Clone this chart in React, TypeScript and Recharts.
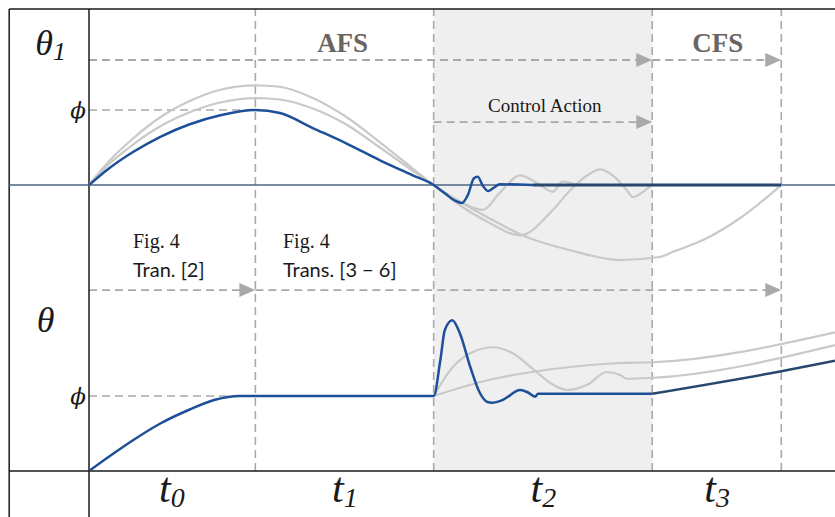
import { ComposedChart, Line, XAxis, YAxis, ReferenceLine, ReferenceArea, ReferenceDot } from "recharts";

// time axis: phase boundaries and where the t_i labels sit
const phaseEdges = [0, 2.23, 4.62, 7.55, 9.28];
const tickCenters = [1.11, 3.43, 6.09, 8.42];
const tickSubs = ["0", "1", "2", "3"];

// upper panel, theta_1 (units of phi)
const theta1Main = [
  [0, 0], [0.28, 0.23], [0.59, 0.44], [0.95, 0.64], [1.35, 0.81], [1.76, 0.93], [2.23, 1.0],
  [2.56, 0.96], [3.0, 0.76], [3.46, 0.55], [3.9, 0.33], [4.34, 0.13], [4.62, 0],
  [4.77, -0.11], [4.91, -0.21], [5.0, -0.24], [5.08, -0.13], [5.16, 0.09], [5.21, 0.11],
  [5.28, -0.01], [5.35, -0.08], [5.42, -0.04], [5.51, 0.01], [5.95, 0],
];
const theta1Settled = [[5.95, 0], [9.28, 0]];
const theta1GrayA = [
  [0, 0], [0.28, 0.33], [0.59, 0.62], [0.95, 0.9], [1.35, 1.12], [1.76, 1.27], [2.23, 1.33],
  [2.56, 1.31], [3.0, 1.16], [3.46, 0.9], [3.9, 0.57], [4.34, 0.22], [4.62, 0],
  [4.97, -0.22], [5.34, -0.43], [5.91, -0.71], [6.45, -0.87], [7.12, -1.0], [7.65, -0.96],
  [7.83, -0.89], [8.28, -0.71], [8.73, -0.44], [9.28, 0],
];
const theta1GrayB = [
  [0, 0], [0.28, 0.29], [0.59, 0.54], [0.95, 0.78], [1.35, 0.97], [1.76, 1.1], [2.23, 1.16],
  [2.56, 1.14], [3.0, 1.02], [3.46, 0.8], [3.9, 0.5], [4.34, 0.19], [4.62, 0],
  [4.97, -0.27], [5.34, -0.49], [5.78, -0.67], [6.22, -0.33], [6.45, -0.07], [6.68, 0.13],
  [6.85, 0.21], [7.02, 0.13], [7.21, -0.07], [7.29, -0.16], [7.43, -0.09], [7.56, 0], [9.28, 0],
];
const theta1GrayC = [
  [4.62, 0], [4.97, -0.22], [5.28, -0.33], [5.51, -0.1], [5.78, 0.13], [6.0, 0.03],
  [6.22, -0.09], [6.35, 0.05], [6.54, 0.01], [6.9, 0],
];

// lower panel, theta (units of phi)
const thetaMain = [
  [0, 0], [0.28, 0.2], [0.59, 0.41], [0.95, 0.63], [1.35, 0.82], [1.69, 0.95], [2.02, 1.0],
  [2.23, 1.0], [4.62, 1.0], [4.71, 1.48], [4.77, 1.88], [4.87, 2.01], [4.97, 1.84],
  [5.11, 1.39], [5.24, 1.04], [5.34, 0.92], [5.4, 0.91], [5.55, 0.95], [5.78, 1.08],
  [5.88, 1.05], [5.98, 0.99], [6.02, 1.03], [6.22, 1.03], [7.55, 1.03],
];
const thetaCfs = [[7.55, 1.03], [9.28, 1.33], [10, 1.47]];
const thetaGrayE = [
  [4.62, 1.0], [4.88, 1.39], [5.11, 1.57], [5.42, 1.65], [5.68, 1.57], [6.01, 1.31],
  [6.22, 1.15], [6.41, 1.08], [6.68, 1.15], [6.94, 1.32], [7.12, 1.28], [7.21, 1.23],
  [7.52, 1.24], [10, 1.68],
];
const thetaGrayF = [[4.62, 1.0], [5.34, 1.21], [6.22, 1.36], [7.12, 1.44], [7.56, 1.45], [10, 1.85]];

const rows = (pts: number[][]) => pts.map(([t, v]) => ({ t, v }));

const BLUE = "#1d4f9a";
const NAVY = "#28476e";
const GRAY = "#c9c9c9";
const DASH = "#a9a9a9";
const INK = "#1a1a1a";
const SERIF = "Liberation Serif";

const Arrow = (p: any) => {
  const { x1, y1, x2, y2 } = p;
  return (
    <g>
      <line x1={x1} y1={y1} x2={x2 - 14} y2={y2} stroke={DASH} strokeWidth={1.8} strokeDasharray="8 5" />
      <polygon points={`${x2},${y2} ${x2 - 16},${y2 - 7} ${x2 - 16},${y2 + 7}`} fill={DASH} />
    </g>
  );
};

const TimeTick = (props: any) => {
  const { x, y, payload } = props;
  const i = tickCenters.indexOf(payload.value);
  return (
    <text x={x} y={y + 31} textAnchor="middle" fontFamily={SERIF} fontStyle="italic" fill={INK}>
      <tspan fontSize={42}>t</tspan>
      <tspan fontSize={28} dy={5}>{tickSubs[i]}</tspan>
    </text>
  );
};

const note = (key: string, t: number, v: number, axis: string, draw: (x: number, y: number) => any) => (
  <ReferenceDot
    key={key}
    x={t}
    y={v}
    yAxisId={axis}
    r={0}
    ifOverflow="visible"
    shape={(p: any) => <g>{draw(p.cx, p.cy)}</g>}
  />
);

const seg = (key: string, axis: string, a: number[], b: number[], stroke: string, width: number) => (
  <ReferenceLine
    key={key}
    yAxisId={axis}
    segment={[{ x: a[0], y: a[1] }, { x: b[0], y: b[1] }]}
    stroke={stroke}
    strokeWidth={width}
    ifOverflow="visible"
  />
);

const arrow = (key: string, axis: string, y: number, from: number, to: number) => (
  <ReferenceLine
    key={key}
    yAxisId={axis}
    segment={[{ x: from, y }, { x: to, y }]}
    ifOverflow="visible"
    shape={Arrow}
  />
);

const curve = (key: string, axis: string, pts: number[][], color: string, width: number) => (
  <Line
    key={key}
    yAxisId={axis}
    data={rows(pts)}
    dataKey="v"
    type="monotone"
    stroke={color}
    strokeWidth={width}
    dot={false}
    activeDot={false}
    isAnimationActive={false}
  />
);

export default function App() {
  const left = -1.07;
  const bottom = -0.62;
  const top = 6.16;
  return (
    <div style={{ position: "absolute", left: 0, top: 0, width: 835, height: 517, background: "#fff" }}>
      <ComposedChart width={835} height={517} margin={{ top: 9, right: 0, bottom: 0, left: 89 }}>
        <XAxis
          type="number"
          dataKey="t"
          domain={[0, 10]}
          allowDataOverflow
          ticks={tickCenters}
          interval={0}
          height={46}
          axisLine={false}
          tickLine={false}
          tickSize={0}
          tickMargin={0}
          tick={TimeTick}
        />
        <YAxis yAxisId="top" type="number" hide domain={[-3.813, 2.347]} allowDataOverflow />
        <YAxis yAxisId="bot" type="number" hide domain={[0, 6.16]} allowDataOverflow />

        <ReferenceArea yAxisId="bot" x1={phaseEdges[2]} x2={phaseEdges[3]} fill="#efefef" fillOpacity={1} stroke="none" />
        {phaseEdges.slice(1).map((e) => (
          <ReferenceLine key={`v${e}`} yAxisId="bot" x={e} stroke={DASH} strokeWidth={1.6} strokeDasharray="8 5" />
        ))}

        {/* dashed guides */}
        <ReferenceLine yAxisId="top" segment={[{ x: 0, y: 1 }, { x: phaseEdges[1], y: 1 }]} stroke={DASH} strokeWidth={1.6} strokeDasharray="8 5" />
        <ReferenceLine yAxisId="bot" segment={[{ x: 0, y: 1 }, { x: phaseEdges[1], y: 1 }]} stroke={DASH} strokeWidth={1.6} strokeDasharray="8 5" />
        {arrow("a1", "top", 1.667, 0, phaseEdges[3])}
        {arrow("a2", "top", 1.667, phaseEdges[3], phaseEdges[4])}
        {arrow("a3", "top", 0.84, phaseEdges[2], phaseEdges[3])}
        {arrow("a4", "bot", 2.413, 0, phaseEdges[1])}
        {arrow("a5", "bot", 2.413, phaseEdges[1], phaseEdges[4])}

        {/* frame and axes */}
        {seg("f1", "bot", [left, bottom], [left, top], INK, 1.5)}
        {seg("f2", "bot", [left, top], [10, top], INK, 1.5)}
        {seg("f3", "bot", [0, bottom], [0, top], INK, 1.5)}
        {seg("f4", "bot", [left, 0], [10, 0], INK, 1.5)}
        {seg("f5", "top", [left, 0], [10, 0], "#4b6585", 1.5)}

        {curve("g1", "top", theta1GrayA, GRAY, 2.2)}
        {curve("g2", "top", theta1GrayB, GRAY, 2.2)}
        {curve("g3", "top", theta1GrayC, GRAY, 2.2)}
        {curve("g4", "bot", thetaGrayE, GRAY, 2.2)}
        {curve("g5", "bot", thetaGrayF, GRAY, 2.2)}
        {curve("b1", "top", theta1Main, BLUE, 2.5)}
        {curve("b2", "top", theta1Settled, NAVY, 3)}
        {curve("b3", "bot", thetaMain, BLUE, 2.5)}
        {curve("b4", "bot", thetaCfs, NAVY, 2.5)}

        {note("n1", 3.4, 1.773, "top", (x, y) => (
          <text x={x} y={y} textAnchor="middle" fontFamily={SERIF} fontWeight="bold" fontSize={27} fill="#6b6562">AFS</text>
        ))}
        {note("n2", 8.43, 1.773, "top", (x, y) => (
          <text x={x} y={y} textAnchor="middle" fontFamily={SERIF} fontWeight="bold" fontSize={27} fill="#6b6562">CFS</text>
        ))}
        {note("n3", 6.11, 0.973, "top", (x, y) => (
          <text x={x} y={y} textAnchor="middle" fontFamily={SERIF} fontSize={19} fill={INK}>Control Action</text>
        ))}
        {note("n4", 0.59, 2.973, "bot", (x, y) => (
          <text x={x} y={y} fontFamily={SERIF} fontSize={20} fill={INK}>Fig. 4</text>
        ))}
        {note("n5", 0.59, 2.587, "bot", (x, y) => (
          <text x={x} y={y} fontFamily="Lato" fontSize={20} fill={INK}>Tran. [2]</text>
        ))}
        {note("n6", 2.6, 2.973, "bot", (x, y) => (
          <text x={x} y={y} fontFamily={SERIF} fontSize={20} fill={INK}>Fig. 4</text>
        ))}
        {note("n7", 2.6, 2.587, "bot", (x, y) => (
          <text x={x} y={y} fontFamily="Lato" fontSize={20} fill={INK}>Trans. [3 − 6]</text>
        ))}
        {note("n8", -0.72, 1.733, "top", (x, y) => (
          <text x={x} y={y} fontFamily={SERIF} fontStyle="italic" fill={INK}>
            <tspan fontSize={36}>θ</tspan>
            <tspan fontSize={26} dy={5}>1</tspan>
          </text>
        ))}
        {note("n9", -0.7, 1.853, "bot", (x, y) => (
          <text x={x} y={y} fontFamily={SERIF} fontStyle="italic" fontSize={36} fill={INK}>θ</text>
        ))}
        {note("n10", -0.04, 1, "top", (x, y) => (
          <text x={x} y={y} textAnchor="end" dominantBaseline="central" fontFamily="DejaVu Serif" fontStyle="italic" fontSize={23} fill={INK}>ϕ</text>
        ))}
        {note("n11", -0.04, 1, "bot", (x, y) => (
          <text x={x} y={y} textAnchor="end" dominantBaseline="central" fontFamily="DejaVu Serif" fontStyle="italic" fontSize={23} fill={INK}>ϕ</text>
        ))}
      </ComposedChart>
    </div>
  );
}
